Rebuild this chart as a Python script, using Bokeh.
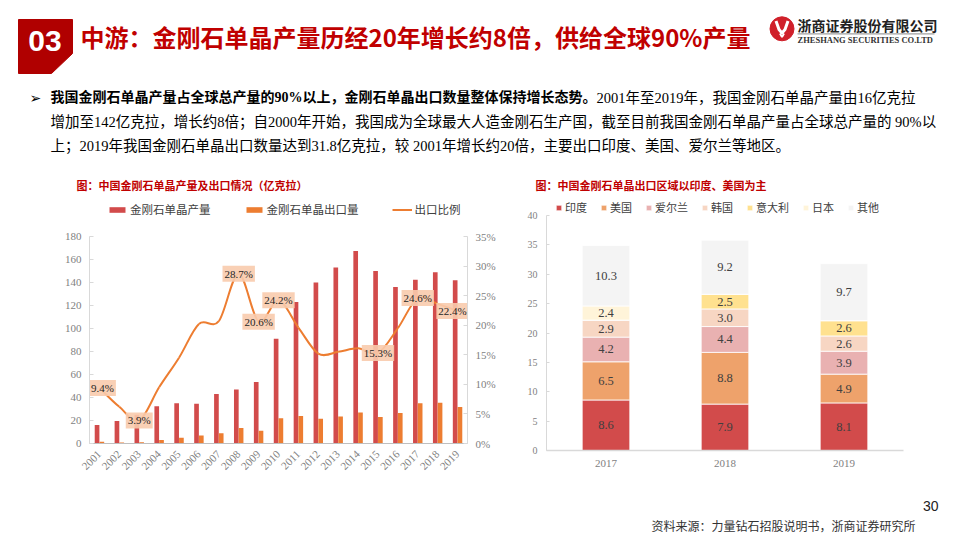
import numpy as np
from bokeh.plotting import figure
from bokeh.models import (Range1d, LinearAxis, FixedTicker, PrintfTickFormatter,
                          ColumnDataSource, Legend, LegendItem, FactorRange)
from bokeh.layouts import column, row
from bokeh.core.properties import value
from bokeh.transform import dodge
from bokeh.embed import file_html
from bokeh.resources import INLINE

# ---------------- data ----------------
years = [2001, 2002, 2003, 2004, 2005, 2006, 2007, 2008, 2009, 2010,
         2011, 2012, 2013, 2014, 2015, 2016, 2017, 2018, 2019]
production = [16, 19.5, 25, 32.5, 35, 34.5, 43, 47, 53.5, 91,
              123, 140, 153, 167.5, 150, 136, 142.5, 149, 142]
exports = [1.5, 0.8, 1.0, 3.0, 5.0, 7.0, 9.0, 13.5, 11.0, 22.0,
           24.0, 21.5, 23.5, 27.0, 23.0, 26.5, 35.0, 35.5, 31.8]
export_ratio = [9.4, 6.2, 3.9, 9.5, 14.5, 20.2, 20.7, 28.7, 20.6, 24.2,
                19.6, 15.2, 15.5, 16.1, 15.3, 19.5, 24.6, 23.6, 22.4]
labeled_years = [2001, 2003, 2008, 2009, 2010, 2015, 2017, 2019]
left_ticks = [0, 20, 40, 60, 80, 100, 120, 140, 160, 180]
pct_ticks = [0, 5, 10, 15, 20, 25, 30, 35]

dest_years = ["2017", "2018", "2019"]
regions = ["印度", "美国", "爱尔兰", "韩国", "意大利", "日本", "其他"]
india = [8.6, 7.9, 8.1]
usa = [6.5, 8.8, 4.9]
ireland = [4.2, 4.4, 3.9]
korea = [2.9, 3.0, 2.6]
italy = [0.0, 2.5, 2.6]
japan = [2.4, 0.0, 0.0]
others = [10.3, 9.2, 9.7]
right_ticks = [0, 5, 10, 15, 20, 25, 30, 35, 40]

RED = "#D24B4B"
ORANGE = "#ED7D31"
region_colors = ["#D24B4B", "#EEA26B", "#E9B1B1", "#F7D6C3", "#FFE18F", "#FFF4D9", "#F4F4F4"]

CJK = "Noto Sans CJK SC"
MIX = "Liberation Serif, Noto Sans CJK SC"
SERIF = "Liberation Serif"

# ---------------- top (header + text) ----------------
top = figure(width=960, height=196, x_range=Range1d(0, 960), y_range=Range1d(196, 0),
             x_axis_type=None, y_axis_type=None, output_backend="svg",
             toolbar_location=None, min_border=0)
top.grid.visible = False
top.outline_line_color = None

top.patch(x=[18, 72, 72, 51, 18], y=[19, 19, 53, 73, 73], color="#B00000")
top.text(x=[44.5], y=[40], text=["03"], text_font=value("Liberation Sans"),
         text_font_style="bold", text_font_size="30px", text_color="white",
         text_align="center", text_baseline="middle")
top.text(x=[80], y=[36], text=["中游：金刚石单晶产量历经20年增长约8倍，供给全球90%产量"],
         text_font=value(CJK), text_font_style="bold", text_font_size="24px",
         text_color="#C00000", text_align="left", text_baseline="middle")

# logo
top.scatter(x=[781.5], y=[28.3], size=24, marker="circle", color="#D0202A")
top.line(x=[775.5, 778.5, 781.5, 784.5, 787.5], y=[20.5, 29, 32.5, 29, 20.5],
         line_color="white", line_width=3)
top.line(x=[779.5, 781.5, 783.5], y=[33, 36.5, 33], line_color="white", line_width=2)
top.text(x=[797], y=[24], text=["浙商证券股份有限公司"], text_font=value(CJK),
         text_font_style="bold", text_font_size="14px", text_color="#222222",
         text_align="left", text_baseline="middle")
top.line(x=[797, 934], y=[33.3, 33.3], line_color="#A0A0A0", line_width=1.2)
top.text(x=[797], y=[39.5], text=["ZHESHANG SECURITIES CO.LTD"], text_font=value(SERIF),
         text_font_style="bold", text_font_size="8.5px", text_color="#333333",
         text_align="left", text_baseline="middle")

# paragraph
top.text(x=[29], y=[97], text=["➢"], text_font=value("DejaVu Sans"), text_font_size="14px",
         text_color="#000000", text_align="left", text_baseline="middle")
top.text(x=[50], y=[97],
         text=["我国金刚石单晶产量占全球总产量的90%以上，金刚石单晶出口数量整体保持增长态势。"],
         text_font=value(MIX), text_font_style="bold", text_font_size="14px",
         text_color="#000000", text_align="left", text_baseline="middle")
top.text(x=[596, 50, 50], y=[97, 121, 145],
         text=["2001年至2019年，我国金刚石单晶产量由16亿克拉",
               "增加至142亿克拉，增长约8倍；自2000年开始，我国成为全球最大人造金刚石生产国，截至目前我国金刚石单晶产量占全球总产量的 90%以",
               "上；2019年我国金刚石单晶出口数量达到31.8亿克拉，较 2001年增长约20倍，主要出口印度、美国、爱尔兰等地区。"],
         text_font=value(MIX), text_font_size="14.5px",
         text_color="#000000", text_align="left", text_baseline="middle")

# chart titles
top.text(x=[76, 535], y=[184, 184],
         text=["图：中国金刚石单晶产量及出口情况（亿克拉）", "图：中国金刚石单晶出口区域以印度、美国为主"],
         text_font=value(CJK), text_font_style="bold", text_font_size="11px",
         text_color="#C00000", text_align="left", text_baseline="middle")


def style_axis(ax, size="11px"):
    ax.axis_line_color = "#D9D9D9"
    ax.major_tick_line_color = "#D9D9D9"
    ax.minor_tick_line_color = None
    ax.major_label_text_color = "#7F7F7F"
    ax.major_label_text_font = SERIF
    ax.major_label_text_font_size = size


# ---------------- left chart ----------------
# frame extends above the axes (axis bounds) so the legend sits inside it
left = figure(width=505, height=299, x_range=Range1d(2000.5, 2019.5),
              y_range=Range1d(0, 180 * 247 / 207),
              output_backend="svg", toolbar_location=None,
              min_border_left=89, min_border_right=38, min_border_top=0, min_border_bottom=52)
left.extra_y_ranges = {"pct": Range1d(0, 35 * 247 / 207)}
left.grid.visible = False
left.outline_line_color = None

src = ColumnDataSource(dict(year=years, prod=production, exp=exports))
r_prod = left.vbar(x=dodge("year", -0.12, range=left.x_range), top="prod", width=0.235,
                   source=src, fill_color=RED, line_color=None)
r_exp = left.vbar(x=dodge("year", 0.12, range=left.x_range), top="exp", width=0.235,
                  source=src, fill_color=ORANGE, line_color=None)

# smooth ratio line (Catmull-Rom as cubic Bezier segments through the data points)
xs = np.array(years, dtype=float)
ys = np.array(export_ratio, dtype=float)
n = len(xs)
x0, y0, x1, y1, cx0, cy0, cx1, cy1 = ([] for _ in range(8))
for i in range(n - 1):
    pxm, pym = (xs[i - 1], ys[i - 1]) if i > 0 else (xs[i], ys[i])
    pxn, pyn = (xs[i + 2], ys[i + 2]) if i + 2 < n else (xs[i + 1], ys[i + 1])
    x0.append(xs[i]); y0.append(ys[i]); x1.append(xs[i + 1]); y1.append(ys[i + 1])
    cx0.append(xs[i] + (xs[i + 1] - pxm) / 6); cy0.append(ys[i] + (ys[i + 1] - pym) / 6)
    cx1.append(xs[i + 1] - (pxn - xs[i]) / 6); cy1.append(ys[i + 1] - (pyn - ys[i]) / 6)
r_line = left.bezier(x0=x0, y0=y0, x1=x1, y1=y1, cx0=cx0, cy0=cy0, cx1=cx1, cy1=cy1,
                     y_range_name="pct", line_color=ORANGE, line_width=2)

lab_ratio = [export_ratio[years.index(yv)] for yv in labeled_years]
lab_dx = [3 if yv == years[0] else (-5 if yv == years[-1] else 0) for yv in labeled_years]
lab_src = ColumnDataSource(dict(x=labeled_years, y=lab_ratio,
                                t=[f"{v:.1f}%" for v in lab_ratio], dx=lab_dx))
left.text(x="x", y="y", text="t", x_offset="dx", source=lab_src,
          y_range_name="pct", text_font=value(SERIF), text_font_size="11px",
          text_color="#262626", text_align="center", text_baseline="middle",
          background_fill_color="#F8CBAD", background_fill_alpha=0.9, padding=2)

left.yaxis.ticker = FixedTicker(ticks=left_ticks)
left.yaxis.bounds = (0, 180)
left.xaxis.ticker = FixedTicker(ticks=years)
left.xaxis.formatter = PrintfTickFormatter(format="%d")
left.xaxis.major_label_orientation = np.pi / 4
left.xaxis.major_label_standoff = 3
pct_axis = LinearAxis(y_range_name="pct", ticker=FixedTicker(ticks=pct_ticks),
                      formatter=PrintfTickFormatter(format="%d%%"), bounds=(0, 35))
left.add_layout(pct_axis, "right")
for ax in [left.yaxis[0], pct_axis, left.xaxis[0]]:
    style_axis(ax)
for ax in [left.yaxis[0], pct_axis]:
    ax.major_tick_in = 4
    ax.major_tick_out = 0
    ax.major_label_standoff = 8
left.xaxis.major_tick_line_color = None
left.xaxis.axis_line_color = "#BFBFBF"

leg_l = Legend(items=[LegendItem(label="金刚石单晶产量", renderers=[r_prod]),
                      LegendItem(label="金刚石单晶出口量", renderers=[r_exp]),
                      LegendItem(label="出口比例", renderers=[r_line])],
               location=(18, 226), orientation="horizontal")
leg_l.background_fill_alpha = 0
leg_l.border_line_color = None
leg_l.padding = 0
leg_l.margin = 0
leg_l.spacing = 33
leg_l.glyph_width = 20
leg_l.glyph_height = 7
leg_l.label_height = 12
leg_l.label_standoff = 3
leg_l.label_text_font = CJK
leg_l.label_text_font_size = "11.5px"
leg_l.label_text_color = "#404040"
left.add_layout(leg_l)

# ---------------- right chart ----------------
right = figure(width=455, height=299, x_range=FactorRange(factors=dest_years),
               y_range=Range1d(0, 40 * 254 / 235),
               output_backend="svg", toolbar_location=None,
               min_border_left=41, min_border_right=57, min_border_top=0, min_border_bottom=45)
right.grid.visible = False
right.outline_line_color = None

rsrc = ColumnDataSource(dict(year=dest_years, 印度=india, 美国=usa, 爱尔兰=ireland,
                             韩国=korea, 意大利=italy, 日本=japan, 其他=others))
stack = right.vbar_stack(regions, x="year", width=0.4, color=region_colors, source=rsrc,
                         line_color="white", line_width=0.8)

series = [india, usa, ireland, korea, italy, japan, others]
lx, ly, lt = [], [], []
for j, yr in enumerate(dest_years):
    base = 0.0
    for s in series:
        v = s[j]
        if v > 0:
            lx.append(yr); ly.append(base + v / 2); lt.append(f"{v:.1f}")
        base += v
right.text(x=lx, y=ly, text=lt, text_font=value(SERIF), text_font_size="12.5px",
           text_color="#404040", text_align="center", text_baseline="middle")

right.yaxis.ticker = FixedTicker(ticks=right_ticks)
right.yaxis.bounds = (0, 40)
style_axis(right.yaxis[0], "10px")
style_axis(right.xaxis[0], "11px")
right.yaxis.major_tick_in = 3
right.yaxis.major_tick_out = 0
right.yaxis.major_label_standoff = 9
right.xaxis.major_tick_line_color = None
right.xaxis.axis_line_width = 1.5
right.xaxis.major_label_standoff = 3

leg_r = Legend(items=[LegendItem(label=nm, renderers=[rr]) for nm, rr in zip(regions, stack)],
               location=(9, 235), orientation="horizontal")
leg_r.background_fill_alpha = 0
leg_r.border_line_color = None
leg_r.padding = 0
leg_r.margin = 0
leg_r.spacing = 13
leg_r.glyph_width = 7
leg_r.glyph_height = 7
leg_r.label_height = 12
leg_r.label_standoff = 3
leg_r.label_text_font = CJK
leg_r.label_text_font_size = "11px"
leg_r.label_text_color = "#404040"
right.add_layout(leg_r)

# ---------------- footer ----------------
bottom = figure(width=960, height=45, x_range=Range1d(0, 960), y_range=Range1d(540, 495),
                x_axis_type=None, y_axis_type=None, output_backend="svg",
                toolbar_location=None, min_border=0)
bottom.grid.visible = False
bottom.outline_line_color = None
bottom.text(x=[938], y=[505], text=["30"], text_font=value("Liberation Sans"),
            text_font_size="14px", text_color="#222222", text_align="right", text_baseline="middle")
bottom.text(x=[915], y=[525], text=["资料来源：力量钻石招股说明书，浙商证券研究所"],
            text_font=value(CJK), text_font_size="12px", text_color="#333333",
            text_align="right", text_baseline="middle")

# nested columns keep the two chart frames independent of each other
layout = column(top, row(column(left), column(right)), bottom)
open("out.html", "w").write(file_html(layout, INLINE))
